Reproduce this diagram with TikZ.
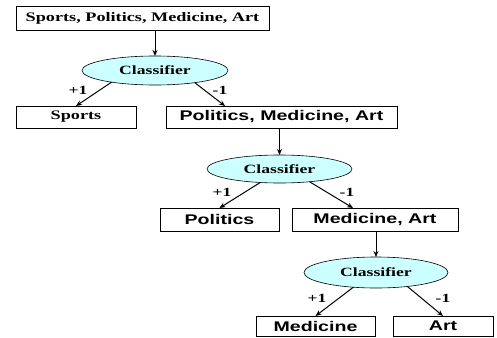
\documentclass[tikz,border=0pt]{standalone}
\usepackage{fontspec}
\newfontfamily\labelserif[FakeStretch=1.4]{Liberation Serif}
\newfontfamily\labelsans[FakeStretch=1.4]{Liberation Sans}
\usetikzlibrary{arrows.meta,shapes.geometric}
\definecolor{classfill}{RGB}{204,255,255}
\tikzset{setbox/.style={draw,line width=.8pt,inner sep=0pt,outer sep=0pt,minimum height=22pt,
  font=\labelserif\bfseries\fontsize{13}{15}\selectfont},
 sansbox/.style={setbox,font=\labelsans\bfseries\fontsize{14}{16}\selectfont},
 classifier/.style={ellipse,draw,fill=classfill,line width=.6pt,inner sep=0pt,outer sep=0pt,
  font=\labelserif\bfseries\fontsize{12.6}{15}\selectfont},
 link/.style={-{Stealth[length=6pt,width=5pt]},line width=1pt},
 sign/.style={font=\labelserif\bfseries\fontsize{12.5}{15}\selectfont}}

\begin{document}
\begin{tikzpicture}[x=1pt,y=-1pt]
\useasboundingbox (0,0) rectangle (497,337);
% first split
\node[setbox,minimum width=253pt,minimum height=24pt] (all) at (142.5,18) {Sports, Politics, Medicine, Art};
\node[classifier,minimum width=146pt,minimum height=29pt] (c1) at (155,70.5) {Classifier};
\node[setbox,minimum width=120pt] (sports) at (76,117) {Sports};
\node[sansbox,minimum width=231pt] (pma) at (281.5,117) {Politics, Medicine, Art};
\node[sign] (p1) at (78,90) {+1};
\node[sign] (m1) at (220,90) {-1};
\draw[link] (c1.north |- all.south) -- (c1.north);
\draw[link] (c1.195) -- (sports.north);
\draw[link] (c1.-17) -- ([xshift=59pt]pma.north west);
% second split
\node[classifier,minimum width=145pt,minimum height=28pt] (c2) at (279.5,169) {Classifier};
\node[sansbox,minimum width=119pt,minimum height=23pt] (politics) at (219.5,219.5) {Politics};
\node[sansbox,minimum width=166pt,minimum height=23pt] (ma) at (375,219.5) {Medicine, Art};
\node[sign] (p2) at (222,192) {+1};
\node[sign] (m2) at (347,192) {-1};
\draw[link] (c2.north |- pma.south) -- (c2.north);
\draw[link] (c2.215) -- (politics.north);
\draw[link] (c2.-23) -- ([xshift=61pt]ma.north west);
% third split
\node[classifier,minimum width=144pt,minimum height=31pt] (c3) at (376,272.5) {Classifier};
\node[sansbox,minimum width=119pt,minimum height=20pt] (medicine) at (315.5,326) {Medicine};
\node[sansbox,minimum width=100pt,minimum height=20pt] (art) at (443,326) {Art};
\node[sign] (p3) at (317,298) {+1};
\node[sign] (m3) at (443,298) {-1};
\draw[link] (c3.north |- ma.south) -- (c3.north);
\draw[link] (c3.213) -- (medicine.north);
\draw[link] (c3.-24) -- (art.north);
\end{tikzpicture}
\end{document}
